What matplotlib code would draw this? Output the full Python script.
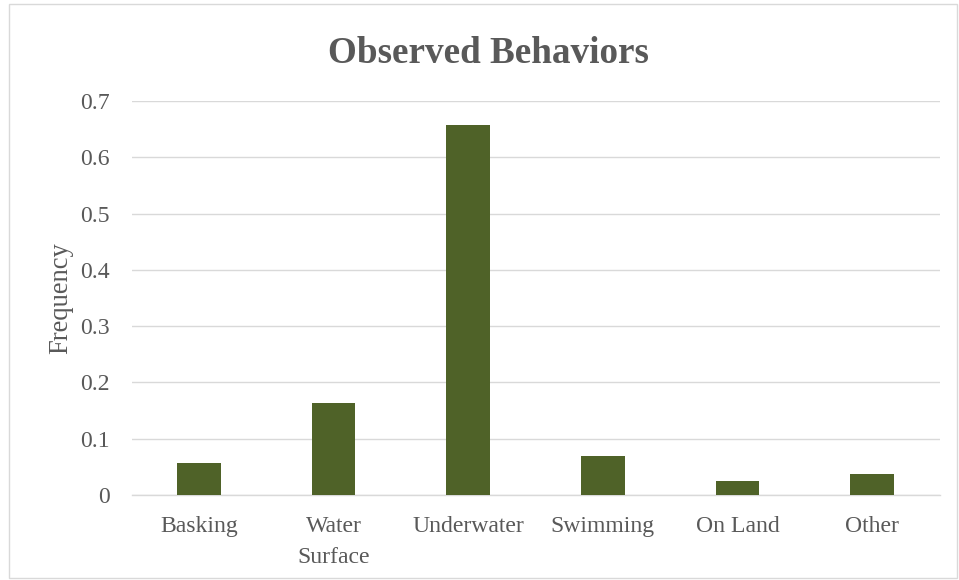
import matplotlib
matplotlib.use("Agg")
import matplotlib.pyplot as plt
from matplotlib.patches import Rectangle

categories = ["Basking", "Water\nSurface", "Underwater", "Swimming", "On Land", "Other"]
frequency = [0.057, 0.164, 0.658, 0.069, 0.024, 0.038]
yticks = [0, 0.1, 0.2, 0.3, 0.4, 0.5, 0.6, 0.7]
ytick_labels = ["0", "0.1", "0.2", "0.3", "0.4", "0.5", "0.6", "0.7"]

plt.rcParams["font.family"] = ["Liberation Serif", "DejaVu Serif"]
text_color = "#595959"
grid_color = "#D9D9D9"
bar_color = "#4F6228"

W, H = 959, 580
fig = plt.figure(figsize=(W / 100, H / 100), dpi=100)
ax = fig.add_axes([131.5 / W, 1 - 495 / H, 808 / W, 394 / H])

x = list(range(len(categories)))
ax.bar(x, frequency, width=0.323, color=bar_color, zorder=3)

ax.set_xlim(-0.5, len(categories) - 0.5)
ax.set_ylim(0, 0.7)
ax.set_yticks(yticks)
ax.set_yticklabels(ytick_labels, fontsize=17.1, color=text_color)
ax.set_xticks(x)
ax.set_xticklabels(categories, fontsize=17.1, color=text_color, linespacing=1.65)
ax.tick_params(axis="both", length=0)
ax.tick_params(axis="y", pad=15.5)
ax.tick_params(axis="x", pad=15)
ax.yaxis.grid(True, color=grid_color, linewidth=1, zorder=0)
for s in ["left", "right", "top"]:
    ax.spines[s].set_visible(False)
ax.spines["bottom"].set_color(grid_color)
ax.spines["bottom"].set_linewidth(1)

fig.text(73 / W, 1 - 298 / H, "Frequency", fontsize=19.1, color=text_color,
         rotation=90, ha="right", va="center")

fig.text(488.5 / W, 1 - 63 / H, "Observed Behaviors", fontsize=26.7, fontweight="bold",
         color=text_color, ha="center", va="baseline")

fig.patches.append(Rectangle((8.5 / W, 2.5 / H), 948 / W, 574 / H,
                             transform=fig.transFigure, fill=False,
                             edgecolor=grid_color, linewidth=1))

fig.savefig("out.png", dpi=100, facecolor="white")
